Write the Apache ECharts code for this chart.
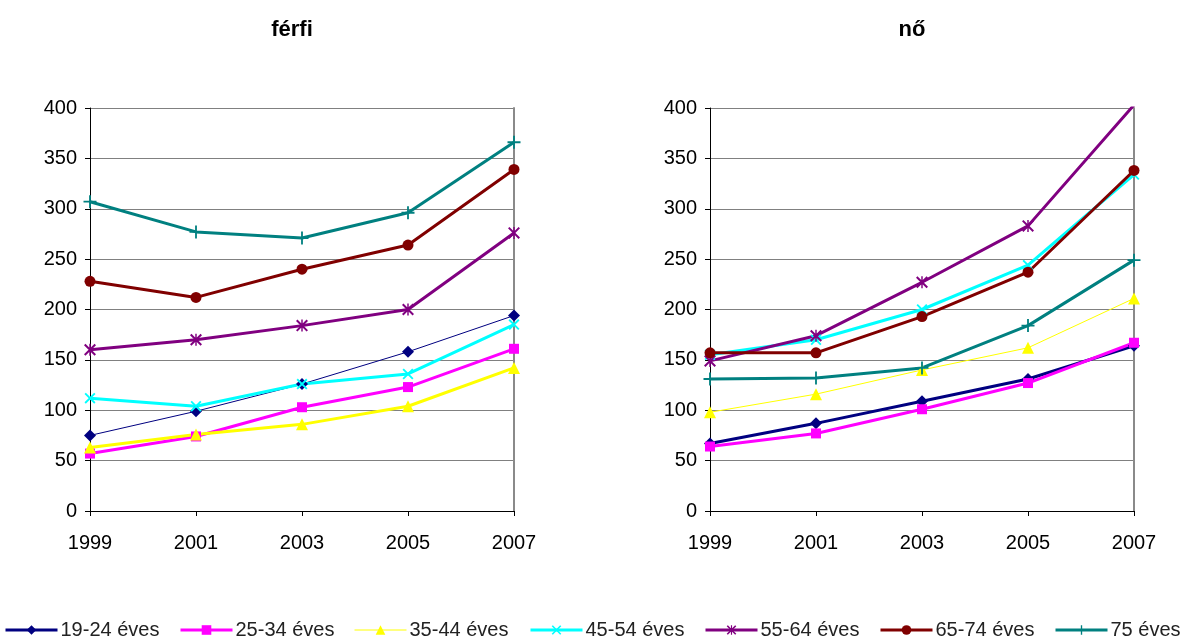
<!DOCTYPE html>
<html>
<head>
<meta charset="utf-8">
<script src="https://cdn.jsdelivr.net/npm/echarts@6/dist/echarts.min.js"></script>
<style>
html,body{margin:0;padding:0;background:#fff;}
#c{width:1186px;height:639px;}
</style>
</head>
<body>
<div id="c"></div>
<script>
const years = ['1999', '2001', '2003', '2005', '2007'];
const seriesNames = ['19-24 éves', '25-34 éves', '35-44 éves', '45-54 éves', '55-64 éves', '65-74 éves', '75 éves -'];
const titles = ['férfi', 'nő'];

// férfi
const m1924 = [75, 99, 126, 158, 194];
const m2534 = [57, 74, 103, 123, 161];
const m3544 = [63, 76, 86, 104, 142];
const m4554 = [112, 104, 126, 136, 185];
const m5564 = [160, 170, 184, 200, 276];
const m6574 = [228, 212, 240, 264, 339];
const m75 = [307, 277, 271, 296, 366];

// nő
const f1924 = [67, 87, 109, 131, 164];
const f2534 = [64, 77, 101, 127, 167];
const f3544 = [98, 116, 140, 162, 211];
const f4554 = [155, 170, 200, 244, 334];
const f5564 = [149, 174, 227, 283, 403];
const f6574 = [157, 157, 193, 237, 338];
const f75 = [131, 132, 142, 184, 249];

const maleData = [m1924, m2534, m3544, m4554, m5564, m6574, m75];
const femaleData = [f1924, f2534, f3544, f4554, f5564, f6574, f75];

const colors = ['#000080', '#FF00FF', '#FFFF00', '#00FFFF', '#800080', '#800000', '#008080'];
const XSYM = 'path://M0,1.2L1.2,0L10,8.8L8.8,10Z M8.8,0L10,1.2L1.2,10L0,8.8Z';
const ASTSYM = 'path://M0,1.2L1.2,0L10,8.8L8.8,10Z M8.8,0L10,1.2L1.2,10L0,8.8Z M4.4,0H5.6V10H4.4Z';
const PLUSSYM = 'path://M4.3,0H5.7V4.3H10V5.7H5.7V10H4.3V5.7H0V4.3H4.3Z';
const symbols = ['diamond', 'rect', 'triangle', XSYM, ASTSYM, 'circle', PLUSSYM];
const symSizes = [12, 10, 12, 11, 12, 11, 13];
const maleWidths = [1, 3, 3, 3, 3, 3, 3];
const femaleWidths = [3, 3, 1, 3, 3, 3, 3];

const gridLefts = [90, 710];
const gridW = 424;
const FONT = 'Liberation Sans, Arial, sans-serif';

const chart = echarts.init(document.getElementById('c'));

const grids = gridLefts.map(l => ({left: l, top: 108, width: gridW, height: 403, show: false}));
const xAxes = gridLefts.map((l, i) => ({
  type: 'category', gridIndex: i, data: years, boundaryGap: false,
  axisLine: {show: true, lineStyle: {color: '#000', width: 1}},
  axisTick: {show: true, length: 5, inside: false, lineStyle: {color: '#000'}},
  axisLabel: {color: '#000', fontSize: 20, fontFamily: FONT, margin: 22},
  splitLine: {show: false}
}));
const yAxes = gridLefts.map((l, i) => ({
  type: 'value', gridIndex: i, min: 0, max: 400, interval: 50,
  axisLine: {show: true, lineStyle: {color: '#000', width: 1}},
  axisTick: {show: true, length: 5, lineStyle: {color: '#000'}},
  axisLabel: {color: '#000', fontSize: 20, fontFamily: FONT, margin: 13},
  splitLine: {show: true, lineStyle: {color: '#808080', width: 1}}
}));
// right border of plot area
const borderAxes = gridLefts.map((l, i) => ({
  type: 'value', gridIndex: i, position: 'right', min: 0, max: 400,
  axisLine: {show: true, lineStyle: {color: '#8a8a8a', width: 2}},
  axisTick: {show: false}, axisLabel: {show: false}, splitLine: {show: false}
}));

const series = [];
[[femaleData, femaleWidths, 1], [maleData, maleWidths, 0]].forEach(([data, widths, gi]) => {
  data.forEach((vals, k) => {
    series.push({
      name: seriesNames[k], type: 'line', xAxisIndex: gi, yAxisIndex: gi,
      data: vals, symbol: symbols[k], symbolSize: symSizes[k], showAllSymbol: true,
      color: colors[k],
      lineStyle: {color: colors[k], width: widths[k]},
      itemStyle: {color: colors[k], borderWidth: 0},
      emphasis: {disabled: true}, animation: false
    });
  });
});

const legendLefts = [4, 179, 354, 529, 704, 879, 1054];
const legends = seriesNames.map((n, k) => ({
  data: [n], left: legendLefts[k], top: 620, itemWidth: 52, itemHeight: 12, itemGap: 0,
  width: 400, selectedMode: false, padding: 0,
  lineStyle: {width: femaleWidths[k]},
  textStyle: {color: '#222', fontSize: 20, fontFamily: FONT, padding: [0, 0, 0, -2]}
}));

chart.setOption({
  animation: false,
  backgroundColor: '#fff',
  title: titles.map((t, i) => ({
    text: t, left: [287, 907][i], top: 14, textAlign: 'center',
    textStyle: {fontSize: 22, fontWeight: 'bold', color: '#000', fontFamily: FONT}
  })),
  grid: grids,
  xAxis: xAxes,
  yAxis: yAxes.concat(borderAxes),
  legend: legends,
  series: series
});
</script>
</body>
</html>
